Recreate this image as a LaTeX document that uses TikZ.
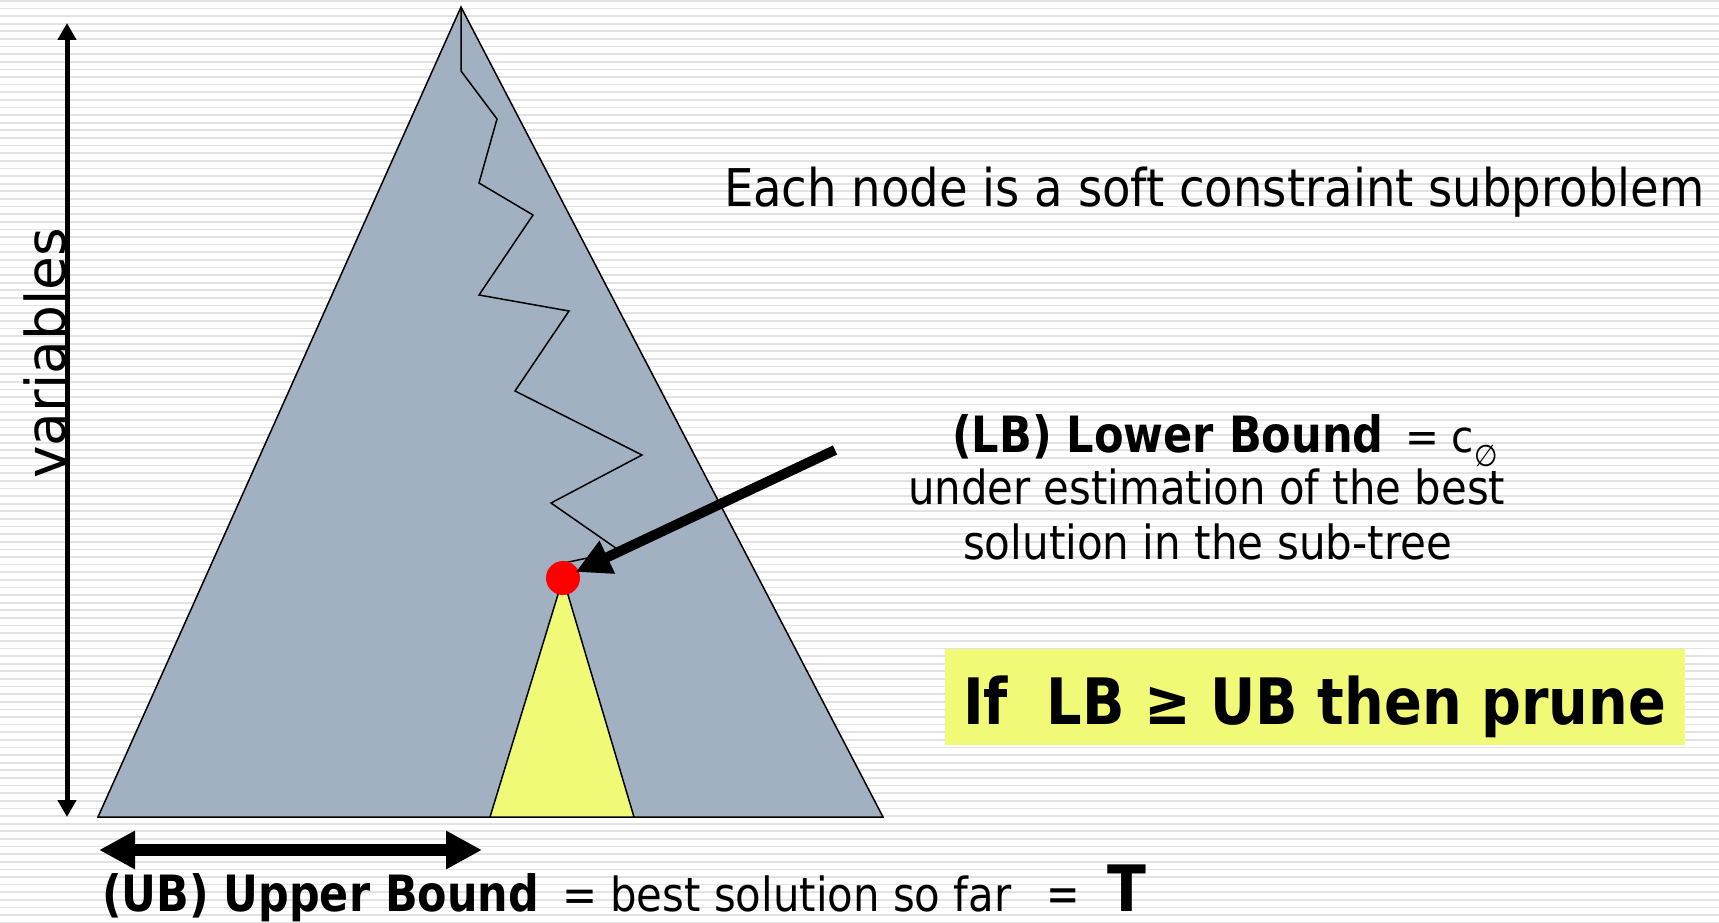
\documentclass[tikz,border=0pt]{standalone}
\usepackage{fontspec}
\usepackage{graphicx}
\setmainfont{DejaVu Sans}
\newfontfamily\bfont{DejaVu Sans Bold}
\usetikzlibrary{arrows.meta}
\definecolor{stripecol}{RGB}{226,226,226}
\definecolor{trigray}{RGB}{162,177,193}
\definecolor{lemon}{RGB}{240,250,118}
\newcommand{\fs}[1]{\fontsize{#1}{#1}\selectfont}
\newcommand{\sx}[2]{\scalebox{#1}[1]{#2}}
\tikzset{
  stripeline/.style={draw=stripecol, line width=1.7pt},
  tri/.style={draw=black, line width=1.5pt, fill=trigray, line join=miter},
  ytri/.style={draw=black, line width=1.5pt, fill=lemon},
  zig/.style={draw=black, line width=1.5pt, line join=miter},
  lbl/.style={anchor=base west, inner sep=0pt, outer sep=0pt, text=black},
  varrow/.style={line width=5pt, {Triangle[length=17pt,width=18pt]}-{Triangle[length=17pt,width=18pt]}},
  harrow/.style={line width=12pt, {Triangle[length=36pt,width=36pt]}-{Triangle[length=36pt,width=36pt]}},
  bigarrow/.style={line width=10pt, -{Triangle[length=35pt,width=34pt]}, shorten >=-3pt},
  reddot/.style={circle, fill=red, minimum size=34pt, inner sep=0pt, outer sep=0pt}
}
\begin{document}
\begin{tikzpicture}[x=1pt,y=-1pt]
\useasboundingbox (0,0) rectangle (1719,923);
\fill[white] (0,0) rectangle (1719,923);
\foreach \k in {0,...,121}{\draw[stripeline] (0,{\k*7.619+0.8}) -- (1719,{\k*7.619+0.8});}

% big search tree
\coordinate (apex) at (461,7);
\coordinate (bl) at (98,817);
\coordinate (br) at (883,817);
\draw[tri] (apex) -- (bl) -- (br) -- cycle;

% search path
\coordinate (dotc) at (563,578);
\draw[zig] (apex) -- (461,71) -- (497,119) -- (479,183) -- (533,215) -- (479,295)
  -- (569,311) -- (515,391) -- (642,455) -- (551,503) -- (620,551) -- (564,563);

% sub-tree
\coordinate (ybl) at (490,817);
\coordinate (ybr) at (634,817);
\draw[ytri] (dotc) -- (ybl) -- (ybr) -- cycle;
\node[reddot] (dot) at (dotc) {};

% arrow to the node
\coordinate (lbtail) at (835,450);
\draw[bigarrow] (lbtail) -- (dot);

% variables axis
\coordinate (vtop) at (67,23);
\coordinate (vbot) at (67,817);
\draw[varrow] (vbot) -- (vtop);
\node[anchor=base west, inner sep=0pt, rotate=90] (var) at (65,479) {\fs{55}variables};

% UB arrow
\coordinate (hl) at (99,850);
\coordinate (hr) at (482,850);
\draw[harrow] (hl) -- (hr);

% texts
\node[lbl] (each) at (724,206) {\fs{52}\sx{0.895}{Each node is a soft constraint subproblem}};
\node[lbl] (lb) at (952,452) {\bfont\fs{50}\sx{0.862}{(LB) Lower Bound}};
\node[lbl] (lbeq) at (1405,452) {\fs{44}\sx{0.92}{= c}\raisebox{-14pt}{\fs{30}\sx{0.9}{∅}}};
\node[lbl] (under) at (908,504) {\fs{47}\sx{0.89}{under estimation of the best}};
\node[lbl] (sol) at (963,559) {\fs{47}\sx{0.895}{solution in the sub-tree}};

\node[fill=lemon, anchor=north west, minimum width=740pt, minimum height=96pt, inner sep=0pt] (box) at (945,649) {};
\node[lbl] (prune) at (963,724) {\bfont\fs{64}\sx{0.872}{If\hspace{0.348em} LB ≥ UB then prune}};

\node[lbl] (ub) at (102,911) {\bfont\fs{50}\sx{0.858}{(UB) Upper Bound}};
\node[lbl] (best) at (562,911) {\fs{47}\sx{0.89}{= best solution so far}};
\node[lbl] (eq) at (1046,911) {\fs{50}\sx{0.8}{=}};
\node[lbl] (T) at (1107,911) {\bfont\fs{64}\sx{0.89}{T}};
\end{tikzpicture}
\end{document}
